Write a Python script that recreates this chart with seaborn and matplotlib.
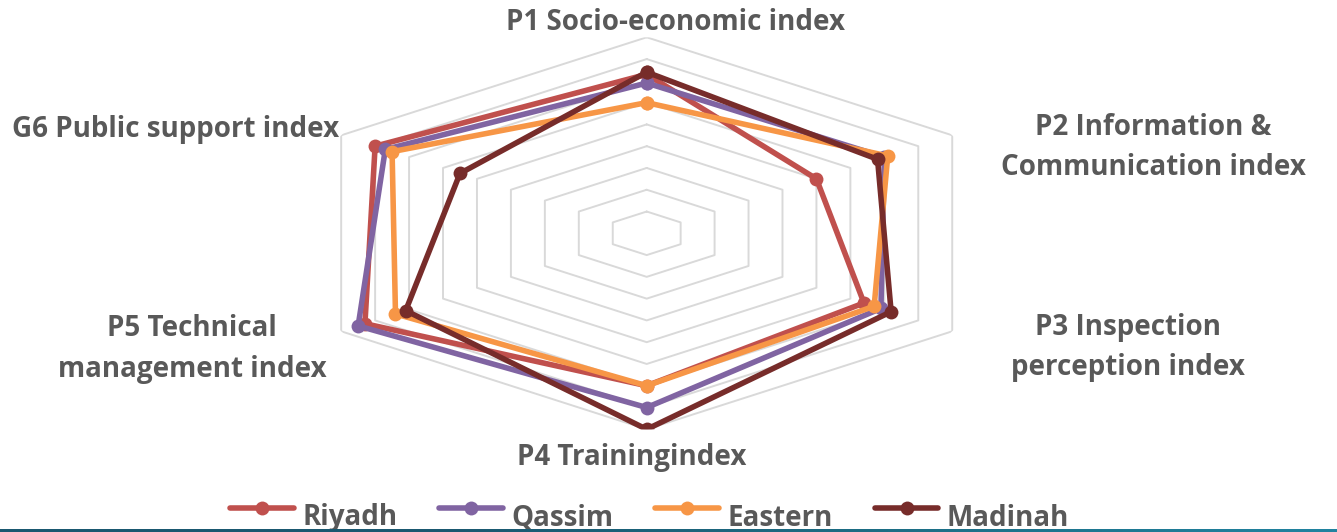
import numpy as np
import pandas as pd
import matplotlib
matplotlib.use("Agg")
import matplotlib.pyplot as plt
import matplotlib.transforms as mtransforms
import seaborn as sns
from matplotlib.lines import Line2D

sns.set_style("white")
plt.rcParams["font.family"] = ["Open Sans", "DejaVu Sans"]

# Index scores per governorate (scale 0-90, grid every 10)
axes_labels = ["P1 Socio-economic index", "P2 Information &\nCommunication index",
               "P3 Inspection\nperception index", "P4 Trainingindex",
               "P5 Technical\nmanagement index", "G6 Public support index"]
regions = ["Riyadh", "Qassim", "Eastern", "Madinah"]
riyadh = [73, 50, 64, 70, 83, 80]
qassim = [69, 70, 69, 80, 85, 77]
eastern = [60, 71, 67, 70, 74, 75]
madinah = [74, 68, 72, 90, 71, 55]
grid_levels = [10, 20, 30, 40, 50, 60, 70, 80, 90]
colors = ["#C0504D", "#8064A2", "#F79646", "#772C2A"]

n = len(axes_labels)
angles = np.linspace(0, 2 * np.pi, n, endpoint=False)
closed = np.append(angles, 2 * np.pi)

rows = []
for name, vals in zip(regions, [riyadh, qassim, eastern, madinah]):
    vv = list(vals) + [vals[0]]
    for t, v in zip(closed, vv):
        rows.append({"region": name, "theta": t, "value": v})
df = pd.DataFrame(rows)

W, H = 1337, 532
fig = plt.figure(figsize=(W / 100, H / 100), dpi=100)

cx, cy, ry = 646.7, 233.3, 196.0
rx = ry * 1.8
ax = fig.add_axes([(cx - rx) / W, 1 - (cy + ry) / H, 2 * rx / W, 2 * ry / H],
                  projection="polar")
ax.set_aspect("auto")
ax.set_theta_offset(np.pi / 2)
ax.set_theta_direction(-1)
ax.set_ylim(0, 90)
ax.grid(False)
ax.spines["polar"].set_visible(False)
ax.set_xticks([])
ax.set_yticks([])
ax.patch.set_alpha(0)

# hexagonal grid rings
for lvl in grid_levels:
    ax.plot(closed, [lvl] * len(closed), color="#D9D9D9", lw=1.4, zorder=1)

sns.lineplot(data=df, x="theta", y="value", hue="region", hue_order=regions,
             palette=colors, sort=False, estimator=None, marker="o",
             markersize=10, markeredgewidth=0, lw=4, ax=ax, legend=False,
             zorder=3)
ax.set_xlabel("")
ax.set_ylabel("")

# category labels
label_pos = [(675, 22), (1153, 147), (1128, 348), (632, 457), (192, 349), (176, 130)]
for lab, (px, py) in zip(axes_labels, label_pos):
    fig.text(px / W, 1 - py / H, lab, ha="center", va="center", fontsize=20,
             fontweight="bold", color="#595959", linespacing=1.5)

handles = [Line2D([0], [0], color=c, lw=4, marker="o", markersize=10,
                  markeredgewidth=0) for c in colors]
leg = fig.legend(handles, regions, loc="center", bbox_to_anchor=(0.486, 1 - 510 / H),
                 ncol=4, frameon=False, handlelength=2.3, handletextpad=0.3,
                 columnspacing=1.5, fontsize=20)
shift = mtransforms.ScaledTranslation(0, -0.08, fig.dpi_scale_trans)
for t in leg.get_texts():
    t.set_color("#595959")
    t.set_fontweight("bold")
    t.set_transform(t.get_transform() + shift)

# footer band
band = fig.add_axes([0, 0, 1, 3.5 / H], zorder=10)
grad = np.linspace(0, 1, 256).reshape(1, -1)
band.imshow(grad, aspect="auto", cmap=matplotlib.colors.LinearSegmentedColormap.from_list(
    "band", ["#1A5870", "#1A5870", "#1C6E85", "#2183A0"]), extent=[0, 1, 0, 1])
band.set_axis_off()

fig.savefig("out.png", dpi=100)
